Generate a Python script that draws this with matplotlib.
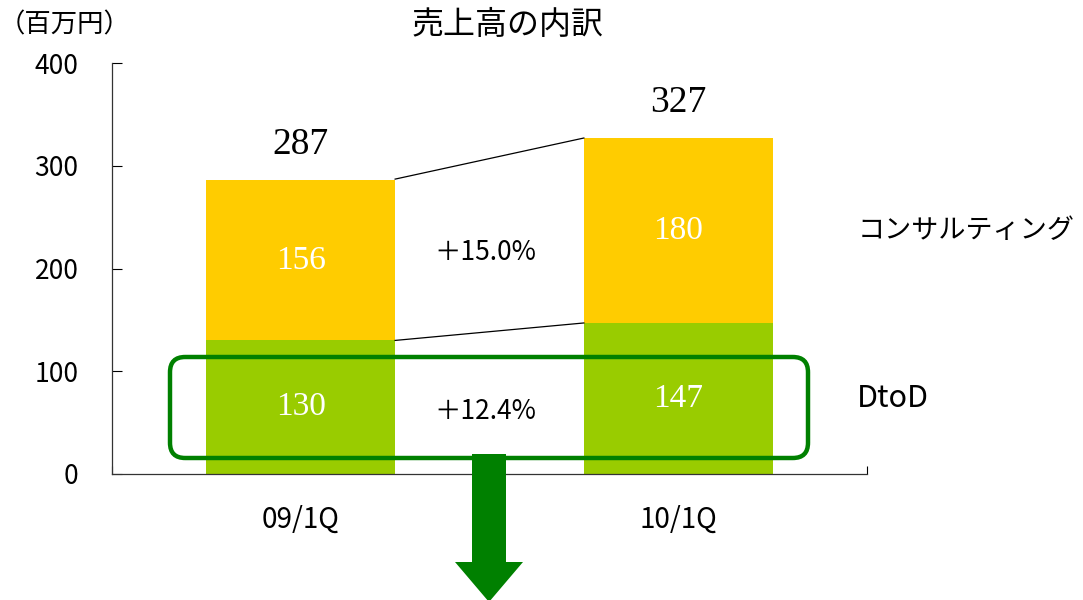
import matplotlib
matplotlib.use("Agg")
import matplotlib.pyplot as plt
from matplotlib.patches import FancyBboxPatch, Polygon

plt.rcParams['font.family'] = ['Noto Sans CJK JP', 'DejaVu Sans']

# data
quarters = ["09/1Q", "10/1Q"]
dtod = [130, 147]
consulting = [156, 180]
totals = [287, 327]
growth_labels = ["＋15.0%", "＋12.4%"]
segment_names = ["コンサルティング", "DtoD"]

c_cons = "#FFCC00"
c_dtod = "#99CC00"
c_dark = "#008000"

W, H = 1083, 600
fig = plt.figure(figsize=(W / 100, H / 100), dpi=100)
ax = fig.add_axes([112 / W, 126 / H, 755 / W, 411 / H])

x = [0, 1]
bw = 0.5
b1 = ax.bar(x, dtod, bw, color=c_dtod, zorder=2)
b2 = ax.bar(x, consulting, bw, bottom=dtod, color=c_cons, zorder=2)

serif = "Liberation Serif"
ax.bar_label(b1, label_type="center", color="white", fontsize=24, family=serif)
ax.bar_label(b2, label_type="center", color="white", fontsize=24, family=serif)
ax.bar_label(b2, labels=[str(t) for t in totals], padding=13, fontsize=27, family=serif)

# connector lines between the bars
ax.plot([x[0] + bw / 2, x[1] - bw / 2], [totals[0], totals[1]], color="black", lw=0.9, zorder=3)
ax.plot([x[0] + bw / 2, x[1] - bw / 2], [dtod[0], dtod[1]], color="black", lw=0.9, zorder=3)

# growth labels between bars
mid_top = ((dtod[0] + totals[0]) / 2 + (dtod[1] + totals[1]) / 2) / 2 - 7
mid_bot = (dtod[0] / 2 + dtod[1] / 2) / 2 - 8
ax.text(0.49, mid_top, growth_labels[0], ha="center", va="center", fontsize=19)
ax.text(0.49, mid_bot, growth_labels[1], ha="center", va="center", fontsize=19)

# segment names on the right
ax.text(1.474, dtod[1] + consulting[1] / 2, segment_names[0], ha="left", va="center",
        fontsize=19.5, clip_on=False)
ax.text(1.474, dtod[1] / 2, segment_names[1], ha="left", va="center",
        fontsize=22, clip_on=False)

ax.set_xlim(-0.5, 1.5)
ax.set_ylim(0, 400)
ax.set_yticks([0, 100, 200, 300, 400])
ax.tick_params(axis="y", direction="in", length=7, width=0.8, pad=24, labelsize=19)
ax.set_xticks(x)
ax.set_xticklabels(quarters)
ax.tick_params(axis="x", which="major", length=0, pad=22, labelsize=20)
ax.set_xticks([-0.5, 0.5, 1.5], minor=True)
ax.tick_params(axis="x", which="minor", direction="in", length=6, width=0.8)
for s in ["top", "right"]:
    ax.spines[s].set_visible(False)
for s in ["left", "bottom"]:
    ax.spines[s].set_linewidth(0.9)
    ax.spines[s].set_color("#333333")

# highlight box around DtoD
box = FancyBboxPatch((170 / W, 1 - 458 / H), 638 / W, 101 / H,
                     boxstyle="round,pad=0,rounding_size=0.014",
                     mutation_aspect=W / H, transform=fig.transFigure,
                     fill=False, edgecolor=c_dark, lw=3.2, zorder=5)
fig.add_artist(box)

# down arrow
pts = [(472, 454), (506, 454), (506, 562), (523, 562), (489, 602),
       (455, 562), (472, 562)]
arrow = Polygon([(px / W, 1 - py / H) for px, py in pts], closed=True,
                transform=fig.transFigure, facecolor=c_dark, edgecolor="none", zorder=6)
fig.add_artist(arrow)

fig.text(508 / W, 1 - 25 / H, "売上高の内訳", ha="center", va="center", fontsize=23)
fig.text(-1 / W, 1 - 25 / H, "（百万円）", ha="left", va="center", fontsize=19)

fig.savefig("out.png", dpi=100)
